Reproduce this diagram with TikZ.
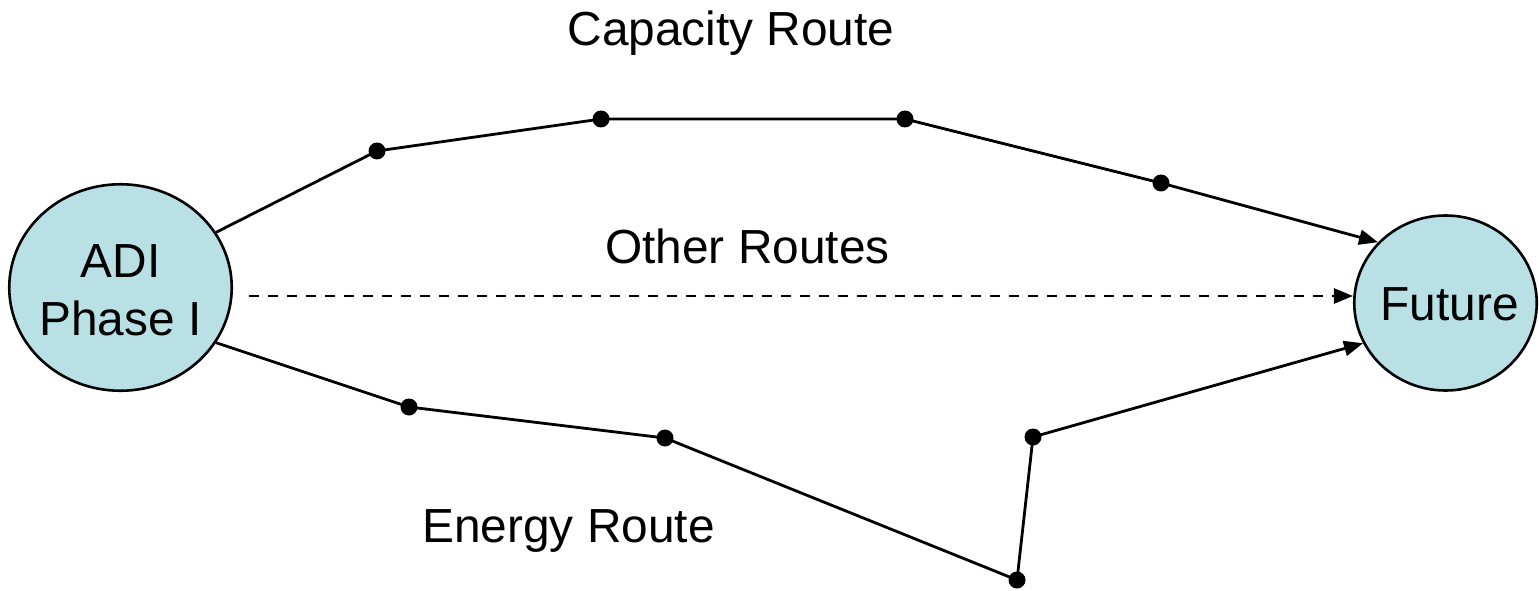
\documentclass[tikz,border=0pt]{standalone}
\usepackage{fontspec}
\setmainfont{Liberation Sans}
\usetikzlibrary{arrows.meta,shapes.geometric}
\definecolor{bubblefill}{RGB}{185,224,228}
\begin{document}
\begin{tikzpicture}[x=1bp,y=-1bp,
  bubble/.style={ellipse,draw=black,line width=2.6bp,fill=bubblefill,inner sep=0pt},
  waypoint/.style={circle,fill=black,inner sep=0pt,minimum size=17bp},
  route/.style={line width=2.8bp,line join=round},
  tipped/.style={-{Triangle[length=19bp,width=15bp]}},
  lbl/.style={anchor=base,inner sep=0pt,font=\fontsize{48}{58}\selectfont}]
\useasboundingbox (0,0) rectangle (1539,591);
% bubbles
\node[bubble,minimum width=222.5bp,minimum height=206.5bp] (adi) at (120.5,287.5) {};
\node[bubble,minimum width=182.5bp,minimum height=175bp] (fut) at (1445.5,303) {};
\node[lbl] (adit1) at (120.5,277) {ADI};
\node[lbl] (adit2) at (120.5,335) {Phase I};
\node[lbl] (futt) at (1449.5,320) {Future};
% capacity route
\node[waypoint] (c1) at (377,151) {};
\node[waypoint] (c2) at (601,119) {};
\node[waypoint] (c3) at (905,119) {};
\node[waypoint] (c4) at (1161,183) {};
% energy route
\node[waypoint] (e1) at (409,407) {};
\node[waypoint] (e2) at (665,438) {};
\node[waypoint] (e3) at (1017,580) {};
\node[waypoint] (e4) at (1033,437) {};
\draw[route,tipped] (adi.30) -- (c1.center) -- (c2.center) -- (c3.center) -- (c4.center) -- (fut.138);
\draw[route,tipped] (adi.-30) -- (e1.center) -- (e2.center) -- (e3.center) -- (e4.center) -- (fut.206);
% other routes
\coordinate (d0) at (249,296);
\draw[line width=2.6bp,dash pattern=on 10bp off 9bp,tipped] (d0) -- (fut.west |- d0);
% labels
\node[lbl] (cap) at (731,46) {Capacity Route};
\node[lbl] (oth) at (747.5,263) {Other Routes};
\node[lbl] (ene) at (568.5,542) {Energy Route};
\end{tikzpicture}
\end{document}
